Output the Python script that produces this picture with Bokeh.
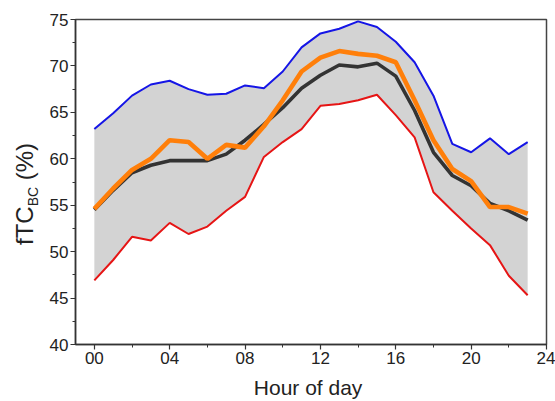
from bokeh.plotting import figure
from bokeh.layouts import row
from bokeh.models import FixedTicker, Range1d, Div
from bokeh.embed import file_html
from bokeh.resources import INLINE

hours = list(range(24))
upper = [63.2, 64.9, 66.8, 68.0, 68.4, 67.5, 66.9, 67.0, 67.9, 67.6, 69.4, 72.0,
         73.5, 74.0, 74.8, 74.2, 72.6, 70.4, 66.8, 61.6, 60.7, 62.2, 60.5, 61.8]
lower = [46.9, 49.1, 51.6, 51.2, 53.1, 51.9, 52.7, 54.4, 55.9, 60.2, 61.8, 63.2,
         65.7, 65.9, 66.3, 66.9, 64.7, 62.3, 56.4, 54.4, 52.5, 50.7, 47.4, 45.3]
mean_vals = [54.5, 56.6, 58.5, 59.3, 59.8, 59.8, 59.8, 60.5, 62.0, 63.7, 65.5, 67.6,
             69.0, 70.1, 69.9, 70.3, 68.9, 65.2, 60.7, 58.2, 57.1, 55.2, 54.4, 53.4]
orange_vals = [54.6, 56.8, 58.8, 60.0, 62.0, 61.8, 60.0, 61.5, 61.2, 63.5, 66.3, 69.4,
               70.9, 71.6, 71.3, 71.1, 70.4, 66.3, 62.0, 58.9, 57.6, 54.8, 54.8, 54.1]
x_ticks = [0, 4, 8, 12, 16, 20, 24]
x_tick_labels = ["00", "04", "08", "12", "16", "20", "24"]
y_ticks = [40, 45, 50, 55, 60, 65, 70, 75]
y_label_main = "fTC"
y_label_sub = "BC"
y_label_unit = "(%)"

FONT = "Liberation Sans"
LEFT_W = 45
H = 401

# left strip holding the y-axis title (with subscript), rotated HTML text
label_html = (
    '<div style="position:absolute; left:12px; top:245px; transform-origin:0 0; '
    'transform:rotate(-90deg); white-space:nowrap; font-family:\'Liberation Sans\'; '
    'font-size:24px; line-height:26px; color:#222222;">'
    f'{y_label_main}<sub style="font-size:14px; vertical-align:-5px;">{y_label_sub}</sub>'
    f'&nbsp;{y_label_unit}</div>'
)
lab = Div(text=label_html, width=LEFT_W, height=H, margin=0,
          styles={"position": "relative", "overflow": "visible"})

p = figure(width=555 - LEFT_W, height=H, output_backend="svg", toolbar_location=None,
           x_range=Range1d(-1, 24), y_range=Range1d(40, 75),
           min_border_left=75 - LEFT_W, min_border_right=9, min_border_top=19,
           min_border_bottom=57, margin=0)
p.grid.visible = False
p.outline_line_color = "#444444"
p.outline_line_width = 1.5

p.varea(x=hours, y1=lower, y2=upper, fill_color="#d3d3d3")
p.line(hours, upper, line_color="#1515e6", line_width=2)
p.line(hours, lower, line_color="#e61515", line_width=2)
p.line(hours, mean_vals, line_color="#333333", line_width=3.6)
p.line(hours, orange_vals, line_color="#ff7f0a", line_width=4.6)

xa = p.xaxis[0]
xa.ticker = FixedTicker(ticks=x_ticks, minor_ticks=[t + 2 for t in x_ticks[:-1]])
xa.major_label_overrides = {t: l for t, l in zip(x_ticks, x_tick_labels)}
ya = p.yaxis[0]
ya.ticker = FixedTicker(ticks=y_ticks, minor_ticks=[t + 2.5 for t in y_ticks[:-1]])

for ax in (xa, ya):
    ax.axis_line_color = "#333333"
    ax.axis_line_width = 1.5
    ax.major_tick_line_color = "#333333"
    ax.minor_tick_line_color = "#333333"
    ax.major_tick_line_width = 1.2
    ax.minor_tick_line_width = 1
    ax.major_tick_in = 0
    ax.major_tick_out = 5
    ax.minor_tick_in = 0
    ax.minor_tick_out = 3
    ax.major_label_text_font = FONT
    ax.major_label_text_font_size = "17px"
    ax.major_label_text_color = "#222222"
    ax.major_label_standoff = 2

xa.axis_label = "Hour of  day"
xa.axis_label_text_font = FONT
xa.axis_label_text_font_size = "21px"
xa.axis_label_text_font_style = "normal"
xa.axis_label_text_color = "#222222"
xa.axis_label_standoff = 9
ya.axis_label = None

layout = row(lab, p, spacing=0)
open("out.html", "w").write(file_html(layout, INLINE))
